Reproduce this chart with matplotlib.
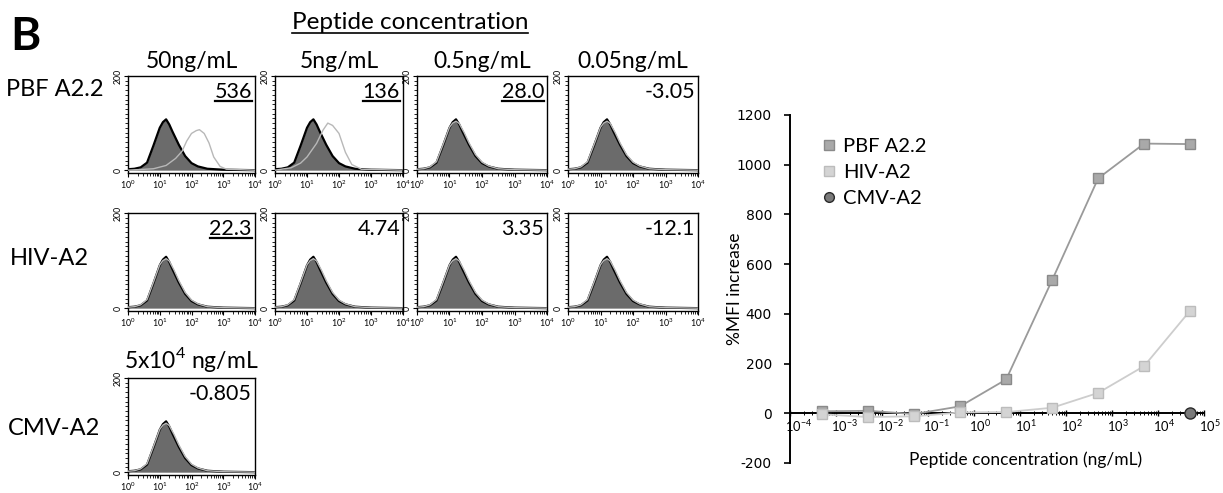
import matplotlib
matplotlib.use("Agg")
import matplotlib.pyplot as plt
import matplotlib.transforms as mtransforms
from matplotlib.ticker import MultipleLocator, LogLocator, FixedLocator
from matplotlib.lines import Line2D

plt.rcParams['font.family'] = ['Lato', 'DejaVu Sans']
plt.rcParams['mathtext.fontset'] = 'dejavusans'

# ---------------- data ----------------
row_labels = ["PBF A2.2", "HIV-A2", "CMV-A2"]
col_headers = ["50ng/mL", "5ng/mL", "0.5ng/mL", "0.05ng/mL"]
cmv_header = r"5x10$^{\mathregular{4}}$ ng/mL"
pbf_mfi_text = ["536", "136", "28.0", "-3.05"]
pbf_underlined = [True, True, True, False]
hiv_mfi_text = ["22.3", "4.74", "3.35", "-12.1"]
hiv_underlined = [True, False, False, False]
cmv_mfi_text = ["-0.805"]
cmv_underlined = [False]

# histogram profiles (log10 fluorescence, cell count)
ctrl_log = [0.0, 0.2, 0.4, 0.6, 0.8, 1.0, 1.1, 1.2, 1.3, 1.4, 1.6, 1.8, 2.0, 2.2, 2.5, 3.0, 4.0]
ctrl_cnt = [2, 3, 6, 16, 52, 90, 102, 108, 97, 82, 54, 30, 15, 8, 3, 1, 0]

pbf50_log = [0.0, 0.8, 1.2, 1.5, 1.7, 1.85, 2.0, 2.15, 2.25, 2.4, 2.55, 2.7, 2.9, 3.1, 4.0]
pbf50_cnt = [0, 3, 10, 25, 40, 62, 78, 84, 86, 78, 58, 28, 8, 2, 0]

pbf5_log = [0.0, 0.5, 0.8, 1.0, 1.3, 1.5, 1.65, 1.8, 2.0, 2.2, 2.4, 2.7, 4.0]
pbf5_cnt = [0, 5, 15, 28, 57, 85, 100, 95, 78, 38, 12, 2, 0]

near_log = [0.0, 0.2, 0.4, 0.6, 0.8, 1.0, 1.1, 1.2, 1.3, 1.45, 1.6, 1.8, 2.0, 2.2, 2.5, 3.0, 4.0]
near_cnt = [2, 3, 7, 18, 54, 91, 100, 104, 99, 80, 58, 33, 17, 9, 3, 1, 0]

# dose-response data
conc = [5e-4, 5e-3, 5e-2, 5e-1, 5e0, 5e1, 5e2, 5e3, 5e4]
pbf_mfi = [8, 10, -3.05, 28.0, 136, 536, 945, 1085, 1083]
hiv_mfi = [-4, -15, -12.1, 3.35, 4.74, 22.3, 82, 190, 413]
cmv_conc = [5e4]
cmv_mfi = [-0.805]
series_names = ["PBF A2.2", "HIV-A2", "CMV-A2"]
xtick_exp = [-4, -3, -2, -1, 0, 1, 2, 3, 4, 5]
ytick_vals = [-200, 0, 200, 400, 600, 800, 1000, 1200]

# ---------------- figure ----------------
W, H = 1223, 493
fig = plt.figure(figsize=(W / 100, H / 100), dpi=100)


def ax_px(x0, y0, x1, y1):
    return fig.add_axes([x0 / W, 1 - y1 / H, (x1 - x0) / W, (y1 - y0) / H])


def fy(y):
    return 1 - y / H


col_x = [(128, 255), (275, 403), (417, 547), (568, 698)]
row_y = [(76, 173), (213, 311), (378, 475)]

panel_tests = [
    [(pbf50_log, pbf50_cnt), (pbf5_log, pbf5_cnt), (near_log, near_cnt), (near_log, near_cnt)],
    [(near_log, near_cnt), (near_log, near_cnt), (near_log, near_cnt), (near_log, near_cnt)],
    [(near_log, near_cnt)],
]
panel_texts = [pbf_mfi_text, hiv_mfi_text, cmv_mfi_text]
panel_under = [pbf_underlined, hiv_underlined, cmv_underlined]


def draw_hist(ax, test_log, test_cnt):
    ax.set_xscale('log')
    ax.set_xlim(1, 1e4)
    ax.set_ylim(-6, 200)
    cx = [10 ** v for v in ctrl_log]
    ax.fill_between(cx, 0, ctrl_cnt, color='#6b6b6b', lw=0, zorder=2)
    ax.plot(cx, ctrl_cnt, color='black', lw=1.6, zorder=3)
    tx = [10 ** v for v in test_log]
    ax.plot(tx, test_cnt, color='#b8b8b8', lw=1.0, zorder=4)
    ax.xaxis.set_major_locator(LogLocator(base=10, numticks=10))
    ax.xaxis.set_minor_locator(LogLocator(base=10, subs=range(2, 10), numticks=10))
    ax.yaxis.set_major_locator(FixedLocator([0, 200]))
    ax.yaxis.set_minor_locator(MultipleLocator(10))
    ax.tick_params(axis='both', which='major', labelsize=6.3, length=3, width=0.8, pad=1)
    ax.tick_params(axis='both', which='minor', length=2, width=0.6)
    ax.tick_params(axis='y', labelrotation=90)
    for lab in ax.get_yticklabels():
        lab.set_va('center')
    for s in ax.spines.values():
        s.set_linewidth(1.0)


value_texts = []
for r, (y0, y1) in enumerate(row_y):
    for c in range(len(panel_tests[r])):
        x0, x1 = col_x[c]
        ax = ax_px(x0, y0, x1, y1)
        tl, tc = panel_tests[r][c]
        draw_hist(ax, tl, tc)
        t = fig.text((x1 - 3) / W, fy(y0 + 22), panel_texts[r][c], ha='right', va='baseline',
                     fontsize=15.5)
        value_texts.append((t, y0 + 22, panel_under[r][c]))

# column headers
for c, hdr in enumerate(col_headers):
    x0, x1 = col_x[c]
    fig.text((x0 + x1) / 2 / W, fy(68), hdr, ha='center', va='baseline', fontsize=16.5)
fig.text((col_x[0][0] + col_x[0][1]) / 2 / W, fy(368), cmv_header, ha='center', va='baseline',
         fontsize=16.5)

# row labels
row_label_pos = [(6, 96), (10, 265), (8, 435)]
for lab, (lx, ly) in zip(row_labels, row_label_pos):
    fig.text(lx / W, fy(ly), lab, ha='left', va='baseline', fontsize=17)

# panel letter and title
fig.text(10 / W, fy(50), "B", ha='left', va='baseline', fontsize=33, fontweight='bold')
title = fig.text(410 / W, fy(29), "Peptide concentration", ha='center', va='baseline',
                 fontsize=17.5)

# ---------------- dose-response chart ----------------
axr = ax_px(790, 115, 1204, 463)
axr.set_xscale('log')
axr.set_xlim(1e-4, 1e5)
axr.set_ylim(-200, 1200)
pbf_style = dict(color='#9a9a9a', mfc='#a9a9a9', mec='#8a8a8a')
hiv_style = dict(color='#cdcdcd', mfc='#d4d4d4', mec='#bcbcbc')
cmv_style = dict(mfc='#7a7a7a', mec='#2a2a2a')
axr.plot(conc, pbf_mfi, lw=1.3, marker='s', ms=7.5, color=pbf_style['color'],
         mfc=pbf_style['mfc'], mec=pbf_style['mec'], zorder=3)
axr.plot(conc, hiv_mfi, lw=1.3, marker='s', ms=7.5, color=hiv_style['color'],
         mfc=hiv_style['mfc'], mec=hiv_style['mec'], zorder=4)
axr.plot(cmv_conc, cmv_mfi, ls='none', marker='o', ms=8, mfc=cmv_style['mfc'],
         mec=cmv_style['mec'], zorder=5)

axr.spines['top'].set_visible(False)
axr.spines['right'].set_visible(False)
axr.spines['bottom'].set_position(('data', 0))
axr.spines['bottom'].set_linewidth(1.4)
axr.spines['left'].set_linewidth(1.4)
axr.set_yticks(ytick_vals)
axr.set_yticklabels([str(v) for v in ytick_vals], fontfamily='DejaVu Sans', fontsize=10)
axr.tick_params(axis='y', length=4, width=1.2, pad=9)
xt = [10.0 ** e for e in xtick_exp]
xl = [r'10$^{\mathregular{%d}}$' % e for e in xtick_exp]
axr.set_xticks(xt, xl, ha='left', fontsize=9.3)
axr.xaxis.set_minor_locator(LogLocator(base=10, subs=range(2, 10), numticks=12))
axr.tick_params(axis='x', which='major', direction='inout', length=5, width=1.0, pad=1)
axr.tick_params(axis='x', which='minor', direction='inout', length=3, width=0.7)
axr.set_ylabel('%MFI increase', fontsize=12.5)
axr.yaxis.set_label_coords(-0.113, 0.5)
axr.set_xlabel('Peptide concentration (ng/mL)', fontsize=12.5)
axr.xaxis.set_label_coords(0.57, 0.032)

handles = [
    Line2D([], [], ls='none', marker='s', ms=7.5, mfc=pbf_style['mfc'], mec=pbf_style['mec']),
    Line2D([], [], ls='none', marker='s', ms=7.5, mfc=hiv_style['mfc'], mec=hiv_style['mec']),
    Line2D([], [], ls='none', marker='o', ms=7, mfc=cmv_style['mfc'], mec=cmv_style['mec']),
]
axr.legend(handles, series_names, loc='upper left', bbox_to_anchor=(0.075, 0.935), frameon=False,
           fontsize=14.5, handlelength=0.8, handletextpad=0.3, labelspacing=0.45, borderpad=0,
           borderaxespad=0)

# ---------------- underlines / label offsets ----------------
fig.canvas.draw()
renderer = fig.canvas.get_renderer()

shift = mtransforms.ScaledTranslation(-5 / 100, 0, fig.dpi_scale_trans)
for lab in axr.xaxis.get_majorticklabels():
    lab.set_transform(lab.get_transform() + shift)


def underline(t, baseline_px, off, lw):
    bb = t.get_window_extent(renderer)
    yy = fy(baseline_px + off)
    fig.add_artist(Line2D([bb.x0 / W, bb.x1 / W], [yy, yy], transform=fig.transFigure,
                          color='black', lw=lw))


for t, base, flag in value_texts:
    if flag:
        underline(t, base, 3, 1.6)
underline(title, 29, 4, 1.2)

fig.savefig("out.png", dpi=100)
